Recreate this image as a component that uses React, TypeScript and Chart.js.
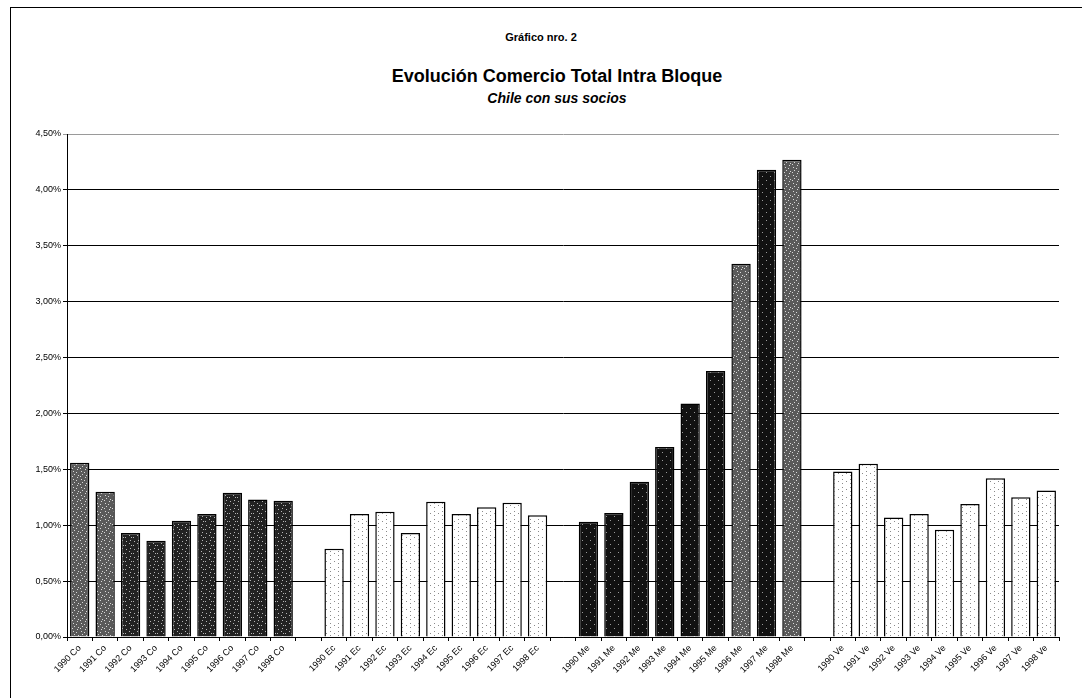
import React, { useEffect, useRef } from 'react';
import { Chart, registerables } from 'chart.js';

Chart.register(...registerables);

const years = ['1990', '1991', '1992', '1993', '1994', '1995', '1996', '1997', '1998'];
const partners = ['Co', 'Ec', 'Me', 'Ve'];

const coValues = [1.56, 1.3, 0.93, 0.86, 1.04, 1.1, 1.29, 1.23, 1.22];
const ecValues = [0.79, 1.1, 1.12, 0.93, 1.21, 1.1, 1.16, 1.2, 1.09];
const meValues = [1.03, 1.11, 1.39, 1.7, 2.09, 2.38, 3.34, 4.18, 4.27];
const veValues = [1.48, 1.55, 1.07, 1.1, 0.96, 1.19, 1.42, 1.25, 1.31];

const yTicks = [0, 0.5, 1, 1.5, 2, 2.5, 3, 3.5, 4, 4.5];

const groups = [coValues, ecValues, meValues, veValues];

function makePattern(bg: string, dot: string, pts: number[][]) {
  const c = document.createElement('canvas');
  c.width = 8;
  c.height = 8;
  const ctx = c.getContext('2d')!;
  ctx.fillStyle = bg;
  ctx.fillRect(0, 0, 8, 8);
  ctx.fillStyle = dot;
  pts.forEach(([x, y]) => ctx.fillRect(x, y, 1, 1));
  return ctx.createPattern(c, 'repeat');
}

export default function App() {
  const ref = useRef<HTMLCanvasElement>(null);

  useEffect(() => {
    if (!ref.current) return;
    const labels: string[] = [];
    const data: (number | null)[] = [];
    const kinds: string[] = [];
    groups.forEach((vals, gi) => {
      vals.forEach((v, i) => {
        labels.push(years[i] + ' ' + partners[gi]);
        data.push(v);
        kinds.push(partners[gi] + i);
      });
      if (gi < groups.length - 1) {
        labels.push('');
        data.push(null);
        kinds.push('gap');
      }
    });

    const darkSpeck = makePattern('#222222', '#b5b5b5', [[1, 1], [5, 3], [2, 6], [6, 7], [3, 3]]);
    const midSpeck = makePattern('#5a5a5a', '#d8d8d8', [[1, 1], [4, 2], [6, 5], [2, 4], [5, 7], [0, 6]]);
    const blackSpeck = makePattern('#111111', '#9a9a9a', [[2, 2], [6, 6]]);
    const whiteSpeck = makePattern('#ffffff', '#8a8a8a', [[2, 1], [2, 5], [6, 3]]);

    const colors = kinds.map((k) => {
      if (k === 'gap') return 'rgba(0,0,0,0)';
      const p = k.slice(0, 2);
      const i = parseInt(k.slice(2), 10);
      if (p === 'Co') return i < 2 ? midSpeck : darkSpeck;
      if (p === 'Me') return i === 6 || i === 8 ? midSpeck : blackSpeck;
      return whiteSpeck;
    });

    const chart = new Chart(ref.current, {
      type: 'bar',
      data: {
        labels,
        datasets: [
          {
            data,
            backgroundColor: colors as any,
            borderColor: '#000',
            borderWidth: 1.5,
            barPercentage: 0.76,
            categoryPercentage: 1,
          },
        ],
      },
      options: {
        animation: false,
        responsive: false,
        maintainAspectRatio: false,
        layout: { padding: { left: 0, right: 23, top: 24, bottom: 0 } },
        plugins: { legend: { display: false }, tooltip: { enabled: false } },
        scales: {
          x: {
            afterFit: (s: any) => {
              s.height = 61;
            },
            grid: { display: true, drawOnChartArea: false, color: '#000', tickLength: 4, offset: true },
            border: { display: true, color: '#000', width: 1 },
            ticks: {
              autoSkip: false,
              maxRotation: 45,
              minRotation: 45,
              color: '#000',
              padding: 2,
              font: { family: 'Liberation Sans', size: 9 },
            },
          },
          y: {
            min: 0,
            max: 4.5,
            afterFit: (s: any) => {
              s.width = 67;
            },
            afterBuildTicks: (s: any) => {
              s.ticks = yTicks.map((v) => ({ value: v }));
            },
            grid: {
              color: (ctx: any) => (ctx.tick && ctx.tick.value === 4.5 ? '#9a9a9a' : '#000'),
              lineWidth: 1,
              tickLength: 4,
            },
            border: { display: true, color: '#000', width: 1 },
            ticks: {
              color: '#000',
              padding: 2,
              font: { family: 'Liberation Sans', size: 9 },
              callback: (v: any) => Number(v).toFixed(2).replace('.', ',') + '%',
            },
          },
        },
      },
    });
    return () => chart.destroy();
  }, []);

  return (
    <div
      style={{
        position: 'fixed',
        left: 0,
        top: 0,
        width: 1082,
        height: 698,
        background: '#fff',
        overflow: 'hidden',
        fontFamily: 'Liberation Sans, Arial, sans-serif',
      }}
    >
      <div
        style={{
          position: 'absolute',
          left: 10,
          top: 7,
          width: 1072,
          height: 700,
          borderTop: '1px solid #000',
          borderLeft: '1px solid #000',
        }}
      />
      <div
        style={{
          position: 'absolute',
          left: 0,
          width: 1082,
          top: 31,
          textAlign: 'center',
          fontWeight: 'bold',
          fontSize: 11,
        }}
      >
        Gráfico nro. 2
      </div>
      <div
        style={{
          position: 'absolute',
          left: 16,
          width: 1082,
          top: 66,
          textAlign: 'center',
          fontWeight: 'bold',
          fontSize: 18,
        }}
      >
        Evolución Comercio Total Intra Bloque
      </div>
      <div
        style={{
          position: 'absolute',
          left: 16,
          width: 1082,
          top: 90,
          textAlign: 'center',
          fontWeight: 'bold',
          fontStyle: 'italic',
          fontSize: 14,
        }}
      >
        Chile con sus socios
      </div>
      <canvas
        ref={ref}
        width={1082}
        height={588}
        style={{ position: 'absolute', left: 0, top: 110, width: 1082, height: 588 }}
      />
    </div>
  );
}
